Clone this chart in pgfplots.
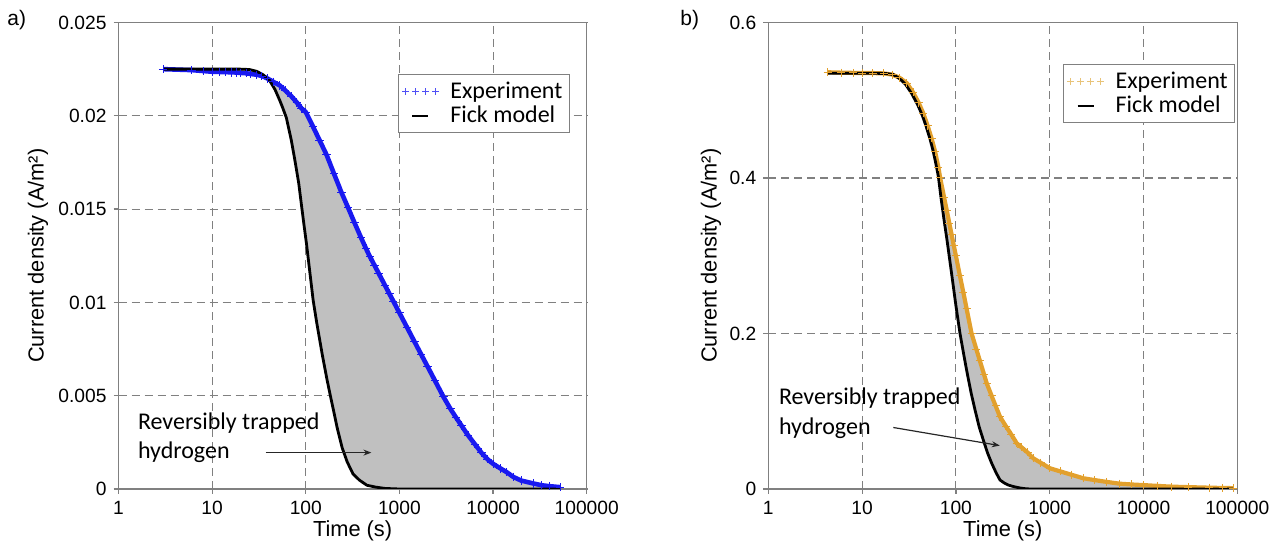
\documentclass[border=0pt]{standalone}
\usepackage{fontspec}
\setmainfont{Liberation Sans}
\newfontfamily\calibri{Carlito}
\usepackage{pgfplots}
\pgfplotsset{compat=1.18}
\usepgfplotslibrary{fillbetween}
\usetikzlibrary{arrows.meta}
\definecolor{expblue}{RGB}{25,25,240}
\definecolor{exporange}{RGB}{226,160,45}
\definecolor{legorange}{RGB}{232,195,120}
\definecolor{legblue}{RGB}{80,80,245}
\definecolor{fillgray}{RGB}{192,192,192}
\definecolor{gridgray}{RGB}{128,128,128}

\begin{document}
\begin{tikzpicture}

% ---------------- panel a ----------------
\begin{axis}[at={(59.25pt,28.5pt)}, anchor=south west,
  scale only axis, width=234.1pt, height=233.25pt,
  xmode=log, xmin=1, xmax=100000,
  xtick={1,10,100,1000,10000,100000},
  xticklabels={1,10,100,1000,10000,100000},
  xminorticks=false, yminorticks=false,
  ymin=0, ymax=0.025,
  ytick={0,0.005,0.01,0.015,0.02,0.025},
  yticklabels={0,0.005,0.01,0.015,0.02,0.025},
  scaled y ticks=false,
  grid=major,
  major grid style={gridgray, line width=0.55pt, dash pattern=on 4pt off 2.5pt},
  axis line style={gridgray, line width=0.6pt},
  tick style={gridgray, line width=0.6pt},
  tick align=outside, major tick length=2.5pt,
  tick pos=left,
  ticklabel style={font=\fontsize{9.6}{11}\selectfont, black},
  label style={font=\fontsize{10.9}{12}\selectfont},
  xlabel={Time (s)},
  ylabel={Current density (A/m²)},
  xlabel style={at={(axis description cs:0.5,-0.0894)}, anchor=center},
  ylabel style={at={(axis description cs:-0.172,0.5)}, anchor=center},
  legend cell align=left,
  legend style={draw=gridgray, line width=0.6pt, font=\calibri\fontsize{12}{13}\selectfont,
    at={(1,1)}, anchor=north east, xshift=-8.35pt, yshift=-25.75pt,
    inner xsep=1.5pt, inner ysep=1.5pt, row sep=-1.5pt},
]
\addplot[name path=expA, color=expblue, line width=2.3pt, mark=+, mark size=2.1pt,
  mark options={line width=0.5pt},
  legend image code/.code={\foreach \xx in {1.5,6.5,11.5,16.5}{\draw[legblue, line width=0.5pt] (\xx pt-1.7pt,0pt)--(\xx pt+1.7pt,0pt) (\xx pt,-1.7pt)--(\xx pt,1.7pt);}}]
coordinates {
(3,0.0225) (6,0.02245) (8,0.0224) (10,0.02236) (12,0.02235) (14,0.02234) (16,0.02233)
(18,0.02232) (20,0.0223) (23,0.02228) (26,0.02224) (30,0.0222) (34,0.02213) (39,0.022)
(45,0.02182) (53,0.02162) (60,0.02137) (70,0.02105) (80,0.02072) (90,0.0204) (100,0.0202)
(120,0.0194) (140,0.0187) (167,0.0179) (200,0.0169) (240,0.0159) (284,0.01506)
(330,0.01429) (390,0.01346) (440,0.01288) (485,0.01245) (540,0.01200) (600,0.01156)
(700,0.01092) (780,0.01047) (860,0.01007) (1000,0.00944) (1200,0.00868) (1450,0.00789)
(1700,0.00723) (2000,0.00656) (2400,0.0058) (2943,0.00495) (3500,0.0043) (4000,0.00385)
(4600,0.0034) (5400,0.00288) (6400,0.0024) (7500,0.00195) (8700,0.0016) (10000,0.00135)
(12000,0.0011) (14000,0.0009) (16400,0.00065) (20000,0.00045) (26700,0.0003)
(33000,0.0002) (40000,0.00015) (52000,0.0001)
};
\addlegendentry{\hspace{3.5pt}Experiment}
\addplot[name path=fickA, black, line width=1.4pt,
  legend image code/.code={\draw[black, line width=1.3pt] (5pt,0pt)--(13pt,0pt);}] coordinates {
(3,0.0225) (10,0.0225) (20,0.0225) (25,0.02248) (30,0.02238) (35,0.0222) (41,0.0219)
(47,0.0214) (53,0.0208) (57,0.0204) (62,0.0199) (70,0.0187) (76,0.0177) (84,0.0164)
(90,0.0152) (96,0.0141) (102,0.0131) (110,0.0117) (120,0.0101) (131,0.0089) (150,0.0072)
(168,0.0059) (183,0.0050) (200,0.0041) (216,0.0033) (245,0.0022) (277,0.00145)
(320,0.0008) (375,0.00047) (450,0.0002) (560,0.0001) (700,0.00003) (1000,0) (52000,0)
};
\addlegendentry{\hspace{3.5pt}Fick model}
\addplot[fillgray, forget plot, on layer=axis background] fill between[of=expA and fickA];
\end{axis}

% ---------------- panel b ----------------
\begin{axis}[at={(384.15pt,28.5pt)}, anchor=south west,
  scale only axis, width=234.5pt, height=233.25pt,
  xmode=log, xmin=1, xmax=100000,
  xtick={1,10,100,1000,10000,100000},
  xticklabels={1,10,100,1000,10000,100000},
  xminorticks=false, yminorticks=false,
  ymin=0, ymax=0.6,
  ytick={0,0.2,0.4,0.6},
  yticklabels={0,0.2,0.4,0.6},
  scaled y ticks=false,
  grid=major,
  major grid style={gridgray, line width=0.55pt, dash pattern=on 4pt off 2.5pt},
  axis line style={gridgray, line width=0.6pt},
  tick style={gridgray, line width=0.6pt},
  tick align=outside, major tick length=2.5pt,
  tick pos=left,
  ticklabel style={font=\fontsize{9.6}{11}\selectfont, black},
  label style={font=\fontsize{10.9}{12}\selectfont},
  xlabel={Time (s)},
  ylabel={Current density (A/m²)},
  xlabel style={at={(axis description cs:0.5,-0.0894)}, anchor=center},
  ylabel style={at={(axis description cs:-0.122,0.5)}, anchor=center},
  legend cell align=left,
  legend style={draw=gridgray, line width=0.6pt, font=\calibri\fontsize{12}{13}\selectfont,
    at={(1,1)}, anchor=north east, xshift=-1pt, yshift=-20.75pt,
    inner xsep=1.5pt, inner ysep=1.5pt, row sep=-1.5pt},
]
\addplot[name path=expB, color=exporange, line width=2.1pt, mark=+, mark size=2pt,
  mark options={line width=0.5pt},
  legend image code/.code={\foreach \xx in {1.5,6.5,11.5,16.5}{\draw[legorange, line width=0.5pt] (\xx pt-1.7pt,0pt)--(\xx pt+1.7pt,0pt) (\xx pt,-1.7pt)--(\xx pt,1.7pt);}}]
coordinates {
(4.3,0.536) (6,0.5355) (8,0.5352) (10,0.535) (13,0.535) (17,0.5345) (21,0.533) (25,0.529)
(30,0.522) (35,0.510) (40,0.497) (45,0.483) (50,0.467) (55,0.451) (60,0.434) (65,0.414)
(68,0.400) (75,0.3746) (80,0.358) (85,0.342) (90,0.327) (95,0.313) (100,0.300) (110,0.275)
(120,0.253) (130,0.232) (147,0.200) (165,0.180) (180,0.165) (200,0.147) (213,0.136)
(240,0.120) (265,0.107) (295,0.093) (340,0.081) (390,0.070) (445,0.0588) (500,0.0537)
(580,0.047) (668,0.0395) (800,0.0338) (1007,0.0266) (1300,0.0226) (1700,0.0184)
(2281,0.0138) (3000,0.0115) (4000,0.0092) (5600,0.0068) (7500,0.0058) (10000,0.0050)
(14000,0.0040) (20000,0.0030) (30000,0.0024) (50000,0.0017) (70000,0.0013) (90000,0.0011)
};
\addlegendentry{\hspace{3.5pt}Experiment}
\addplot[name path=fickB, black, line width=1.4pt,
  legend image code/.code={\draw[black, line width=1.3pt] (5pt,0pt)--(13pt,0pt);}] coordinates {
(4.3,0.5348) (10,0.5348) (17.6,0.5345) (21.5,0.533) (25,0.528) (29,0.5205) (34,0.508)
(39.3,0.4937) (44,0.480) (48,0.4669) (53,0.450) (57.4,0.434) (61,0.419) (65,0.402)
(70,0.371) (75,0.345) (80,0.322) (90,0.277) (100,0.236) (110.6,0.2) (120,0.176)
(130,0.153) (145,0.124) (160,0.1016) (177,0.080) (196,0.063) (218,0.046) (241,0.033)
(268,0.021) (295,0.0116) (330,0.0075) (362,0.0051) (400,0.0035) (445,0.0022) (500,0.001)
(560,0.0003) (620,0) (90000,0)
};
\addlegendentry{\hspace{3.5pt}Fick model}
\addplot[fillgray, forget plot, on layer=axis background] fill between[of=expB and fickB];
\end{axis}

% panel letters
\node[anchor=west, inner sep=0pt, font=\fontsize{10.5}{12}\selectfont] at (3.5pt,263pt) {a)};
\node[anchor=west, inner sep=0pt, font=\fontsize{10.5}{12}\selectfont] at (340pt,263pt) {b)};

% annotations
\node[anchor=west, inner sep=0pt, align=left, font=\calibri\fontsize{12}{14.8}\selectfont] at (68.8pt,54.1pt) {Reversibly trapped\\hydrogen};
\draw[-{Stealth[length=4pt,width=3pt]}, line width=0.6pt, black!85] (132.85pt,46.7pt) -- (185.7pt,46.7pt);
\node[anchor=west, inner sep=0pt, align=left, font=\calibri\fontsize{12}{14.8}\selectfont] at (389.3pt,66.3pt) {Reversibly trapped\\hydrogen};
\draw[-{Stealth[length=4pt,width=3pt]}, line width=0.6pt, black!85] (446.65pt,59.25pt) -- (499.9pt,50.2pt);

\pgfresetboundingbox
\useasboundingbox (0,0) rectangle (641pt,273pt);
\end{tikzpicture}
\end{document}
